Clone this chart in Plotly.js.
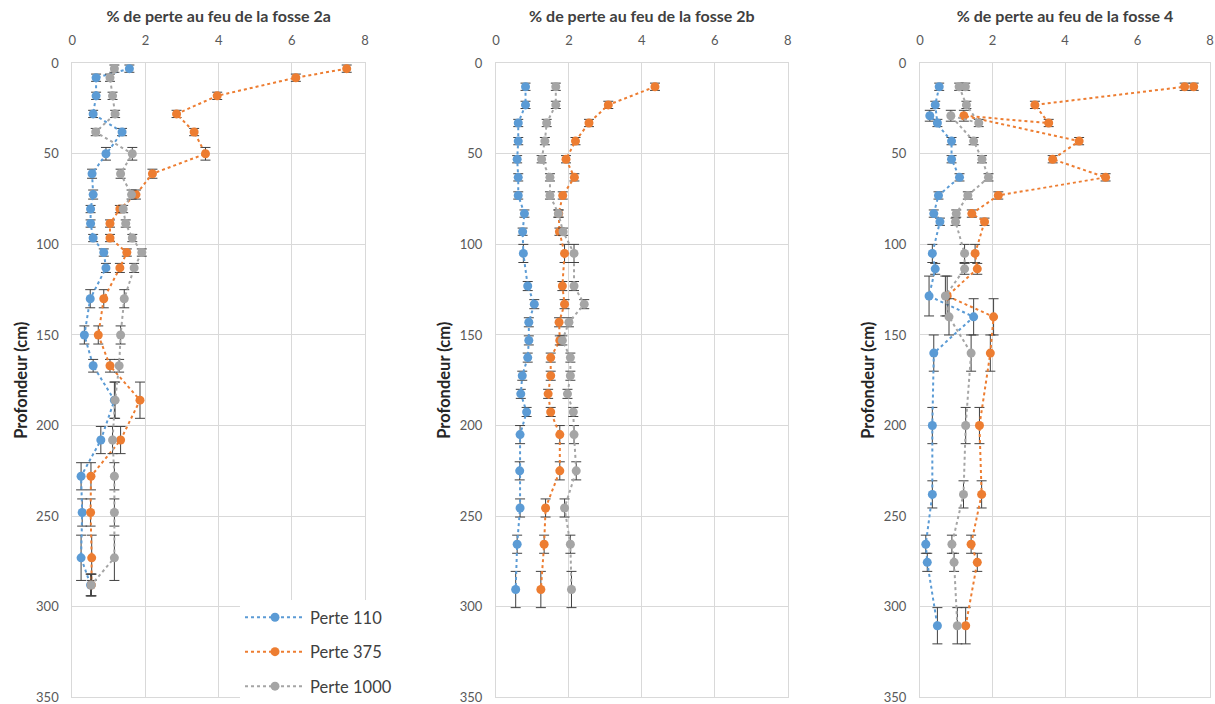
<!DOCTYPE html>
<html>
<head>
<meta charset="utf-8">
<script src="https://cdn.plot.ly/plotly-3.0.1.min.js"></script>
<style>
html,body{margin:0;padding:0;background:#fff;overflow:hidden;}
#chart{width:1215px;height:704px;}
</style>
</head>
<body>
<div id="chart"></div>
<script>
// ---------- Data ----------
const seriesNames = ["Perte 110", "Perte 375", "Perte 1000"];
const panelTitles = ["% de perte au feu de la fosse 2a", "% de perte au feu de la fosse 2b", "% de perte au feu de la fosse 4"];
const xTicks = [0, 2, 4, 6, 8];
const yTicks = [0, 50, 100, 150, 200, 250, 300, 350];

// Fosse 2a
const depth2a = [3, 8, 18, 28, 38, 50, 61, 72.5, 80.5, 88.5, 96.5, 104.5, 113, 130, 150, 167, 186, 208, 228, 248, 273, 288];
const p110_2a = [1.56, 0.65, 0.65, 0.57, 1.36, 0.92, 0.54, 0.57, 0.50, 0.50, 0.57, 0.86, 0.92, 0.49, 0.33, 0.57, 1.15, 0.78, 0.24, 0.27, 0.24, 0.50];
const p375_2a = [7.50, 6.11, 3.96, 2.85, 3.33, 3.64, 2.19, 1.74, 1.30, 1.03, 1.03, 1.49, 1.30, 0.86, 0.71, 1.03, 1.85, 1.32, 0.51, 0.50, 0.53, 0.52];
const p1000_2a = [1.15, 1.03, 1.10, 1.17, 0.64, 1.64, 1.32, 1.62, 1.39, 1.46, 1.64, 1.90, 1.69, 1.42, 1.32, 1.28, 1.17, 1.10, 1.15, 1.15, 1.15, 0.52];
const err2a = [2, 2, 2, 2, 2, 3.5, 2.5, 2.5, 2, 2, 2, 2, 2.5, 5, 5, 3.5, 10, 7.5, 7.5, 7.5, 12.5, 6];

// Fosse 2b
const depth2b = [13, 23, 33, 43, 53, 63, 73, 83, 93, 105, 123, 133, 143, 153, 162.5, 172.5, 182.5, 192.5, 205, 225, 245.5, 265.5, 290.5];
const p110_2b = [0.81, 0.81, 0.61, 0.61, 0.58, 0.61, 0.61, 0.78, 0.73, 0.75, 0.87, 1.05, 0.90, 0.90, 0.87, 0.72, 0.68, 0.84, 0.66, 0.65, 0.66, 0.58, 0.54];
const p375_2b = [4.36, 3.08, 2.55, 2.18, 1.92, 2.15, 1.83, 1.72, 1.74, 1.88, 1.82, 1.88, 1.73, 1.75, 1.50, 1.50, 1.43, 1.50, 1.75, 1.75, 1.36, 1.32, 1.23];
const p1000_2b = [1.64, 1.64, 1.39, 1.34, 1.25, 1.48, 1.48, 1.71, 1.84, 2.14, 2.14, 2.42, 2.00, 1.82, 2.04, 2.04, 1.96, 2.12, 2.14, 2.20, 1.88, 2.04, 2.07];
const err2b = [2, 2, 2, 2, 2, 2, 2, 2, 2, 5, 2.5, 2.5, 2.5, 2.5, 2.5, 2.5, 2.5, 2.5, 5, 5, 5, 5, 10];

// Fosse 4
const depth4_110 = [13, 23, 33, 29, 43, 53, 63, 73, 83, 87.5, 105, 113.5, 128.5, 140, 160, 200, 238, 265.5, 275.5, 310.5];
const p110_4 = [0.53, 0.42, 0.48, 0.27, 0.87, 0.87, 1.09, 0.51, 0.38, 0.55, 0.34, 0.42, 0.25, 1.48, 0.38, 0.34, 0.34, 0.16, 0.20, 0.48];
const err4_110 = [2, 2, 2, 3, 2, 2, 2, 2, 2, 2, 5, 3, 11, 10, 10, 10, 7.5, 5, 5, 10];
const depth4 = [13, 13, 23, 33, 29, 43, 53, 63, 73, 83, 87.5, 105, 113.5, 128.5, 140, 160, 200, 238, 265.5, 275.5, 310.5];
const p375_4 = [7.55, 7.30, 3.17, 3.55, 1.21, 4.39, 3.66, 5.12, 2.16, 1.43, 1.78, 1.52, 1.58, 0.75, 2.03, 1.94, 1.64, 1.70, 1.41, 1.58, 1.26];
const p1000_4 = [1.25, 1.08, 1.28, 1.62, 0.85, 1.48, 1.71, 1.89, 1.32, 1.00, 0.98, 1.23, 1.23, 0.70, 0.80, 1.41, 1.26, 1.20, 0.88, 0.94, 1.03];
const err4 = [2, 2, 2, 2, 3, 2, 2, 2, 2, 2, 2, 5, 3, 11, 10, 10, 10, 7.5, 5, 5, 10];

// ---------- Styling ----------
const colors = ["#5B9BD5", "#ED7D31", "#A5A5A5"];
const FONT = "Lato, 'Open Sans', sans-serif";

const panels = [
  {xa: "x", ya: "y", series: [[depth2a, p110_2a, err2a], [depth2a, p375_2a, err2a], [depth2a, p1000_2a, err2a]]},
  {xa: "x2", ya: "y2", series: [[depth2b, p110_2b, err2b], [depth2b, p375_2b, err2b], [depth2b, p1000_2b, err2b]]},
  {xa: "x3", ya: "y3", series: [[depth4_110, p110_4, err4_110], [depth4, p375_4, err4], [depth4, p1000_4, err4]]}
];

const traces = [];
panels.forEach((p, pi) => {
  p.series.forEach((s, si) => {
    traces.push({
      type: "scatter",
      mode: "lines+markers",
      name: seriesNames[si],
      legendgroup: seriesNames[si],
      showlegend: pi === 0,
      x: s[1],
      y: s[0],
      xaxis: p.xa,
      yaxis: p.ya,
      line: {color: colors[si], width: 2, dash: "dot"},
      marker: {color: colors[si], size: 9},
      error_y: {type: "data", array: s[2], visible: true, color: "#404040", thickness: 1, width: 5},
      hoverinfo: "x+y"
    });
  });
});

const xDomains = [[72.3/1215, 365/1215], [496/1215, 787.7/1215], [920/1215, 1210/1215]];
const yDomain = [1 - 698.3/704, 1 - 63.3/704];

const layout = {
  width: 1215,
  height: 704,
  margin: {l: 0, r: 0, t: 0, b: 0},
  paper_bgcolor: "#ffffff",
  plot_bgcolor: "#ffffff",
  font: {family: FONT, size: 12, color: "#595959"},
  showlegend: true,
  legend: {
    x: 240/1215, y: 1 - 601/704, xanchor: "left", yanchor: "top",
    bgcolor: "#ffffff", borderwidth: 0,
    font: {family: FONT, size: 16.5, color: "#404040"},
    itemwidth: 60,
    tracegroupgap: 10
  }
};

["", "2", "3"].forEach((k, i) => {
  layout["xaxis" + k] = {
    domain: xDomains[i],
    anchor: "y" + k,
    side: "top",
    range: [0, 8],
    tickmode: "array",
    tickvals: xTicks,
    ticktext: xTicks.map(String),
    ticks: "outside", ticklen: 12, tickcolor: "rgba(0,0,0,0)",
    ticklabeloverflow: "allow",
    showgrid: true, gridcolor: "#d9d9d9", gridwidth: 1,
    zeroline: false,
    showline: true, linecolor: "#d9d9d9", linewidth: 1, mirror: true,
    tickfont: {family: FONT, size: 13, color: "#595959"},
    title: {text: "<b>" + panelTitles[i] + "</b>", font: {family: FONT, size: 16, color: "#404040"}, standoff: 5},
    automargin: false,
    fixedrange: true
  };
  layout["yaxis" + k] = {
    domain: yDomain,
    anchor: "x" + k,
    range: [350, 0],
    tickmode: "array",
    tickvals: yTicks,
    ticktext: yTicks.map(String),
    ticks: "outside", ticklen: 10, tickcolor: "rgba(0,0,0,0)",
    ticklabeloverflow: "allow",
    showgrid: true, gridcolor: "#d9d9d9", gridwidth: 1,
    zeroline: false,
    showline: true, linecolor: "#d9d9d9", linewidth: 1, mirror: true,
    tickfont: {family: FONT, size: 13, color: "#595959"},
    title: {text: "<b>Profondeur (cm)</b>", font: {family: FONT, size: 16.5, color: "#262626"}, standoff: 4},
    automargin: false,
    fixedrange: true
  };
});

Plotly.newPlot("chart", traces, layout, {displayModeBar: false, staticPlot: true});
</script>
</body>
</html>
